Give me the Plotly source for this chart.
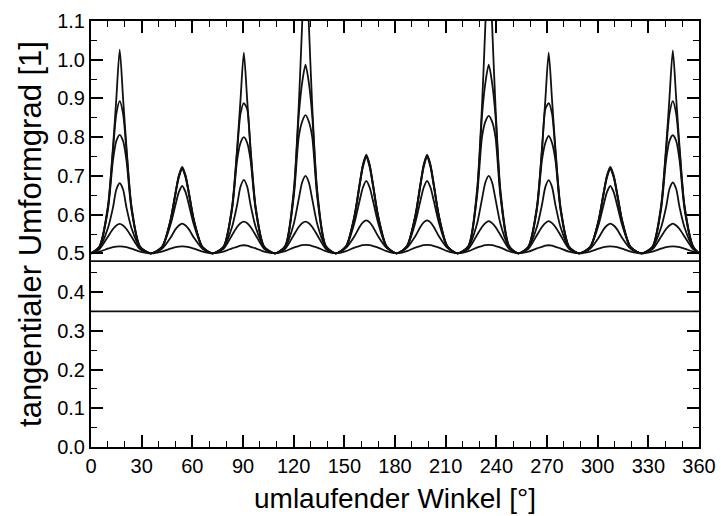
import plotly.graph_objects as go

# Angle positions (degrees)
X = [0,
     5, 10, 13, 15, 17, 19, 21, 24, 29, 35.5,
     42, 47, 50, 52, 54, 56, 58, 61, 66, 72,
     78.5, 83.5, 86.5, 88.5, 90.5, 92.5, 94.5, 97.5, 102.5, 109,
     115, 120, 123, 125, 127, 129, 131, 134, 139, 145,
     151, 156, 159, 161, 163, 165, 167, 170, 175, 181,
     187, 192, 195, 197, 199, 201, 203, 206, 211, 217,
     223.5, 228.5, 231.5, 233.5, 235.5, 237.5, 239.5, 242.5, 247.5, 253,
     259, 264, 267, 269, 271, 273, 275, 278, 283, 289,
     295.5, 300.5, 303.5, 305.5, 307.5, 309.5, 311.5, 314.5, 319.5, 326,
     332.5, 337.5, 340.5, 342.5, 344.5, 346.5, 348.5, 351.5, 356.5, 360]

C1 = [0.5,
      0.518, 0.621, 0.774, 0.900, 1.026, 0.900, 0.774, 0.621, 0.518, 0.5,
      0.516, 0.585, 0.656, 0.701, 0.723, 0.701, 0.656, 0.585, 0.516, 0.5,
      0.518, 0.620, 0.770, 0.895, 1.018, 0.895, 0.770, 0.620, 0.518, 0.5,
      0.520, 0.660, 0.880, 1.090, 1.300, 1.090, 0.880, 0.660, 0.520, 0.5,
      0.518, 0.597, 0.678, 0.729, 0.755, 0.729, 0.678, 0.597, 0.518, 0.5,
      0.518, 0.597, 0.678, 0.729, 0.755, 0.729, 0.678, 0.597, 0.518, 0.5,
      0.520, 0.660, 0.880, 1.090, 1.300, 1.090, 0.880, 0.660, 0.520, 0.5,
      0.518, 0.620, 0.770, 0.895, 1.018, 0.895, 0.770, 0.620, 0.518, 0.5,
      0.516, 0.585, 0.656, 0.701, 0.723, 0.701, 0.656, 0.585, 0.516, 0.5,
      0.518, 0.621, 0.774, 0.900, 1.024, 0.900, 0.774, 0.621, 0.518, 0.5]

C2 = [0.5,
      0.517, 0.618, 0.765, 0.860, 0.893, 0.860, 0.765, 0.618, 0.517, 0.5,
      0.516, 0.584, 0.655, 0.699, 0.720, 0.699, 0.655, 0.584, 0.516, 0.5,
      0.517, 0.617, 0.762, 0.860, 0.888, 0.872, 0.762, 0.617, 0.517, 0.5,
      0.518, 0.652, 0.855, 0.940, 0.987, 0.940, 0.855, 0.652, 0.518, 0.5,
      0.518, 0.596, 0.676, 0.727, 0.752, 0.727, 0.676, 0.596, 0.518, 0.5,
      0.518, 0.596, 0.676, 0.727, 0.752, 0.727, 0.676, 0.596, 0.518, 0.5,
      0.518, 0.652, 0.855, 0.940, 0.987, 0.940, 0.855, 0.652, 0.518, 0.5,
      0.517, 0.617, 0.762, 0.872, 0.888, 0.860, 0.762, 0.617, 0.517, 0.5,
      0.516, 0.584, 0.655, 0.699, 0.720, 0.699, 0.655, 0.584, 0.516, 0.5,
      0.517, 0.618, 0.765, 0.860, 0.893, 0.860, 0.765, 0.618, 0.517, 0.5]

C3 = [0.5,
      0.516, 0.612, 0.740, 0.790, 0.806, 0.790, 0.740, 0.612, 0.516, 0.5,
      0.515, 0.582, 0.652, 0.696, 0.717, 0.696, 0.652, 0.582, 0.515, 0.5,
      0.516, 0.612, 0.740, 0.785, 0.800, 0.785, 0.740, 0.612, 0.516, 0.5,
      0.517, 0.645, 0.800, 0.840, 0.857, 0.840, 0.800, 0.645, 0.517, 0.5,
      0.517, 0.594, 0.673, 0.723, 0.748, 0.723, 0.673, 0.594, 0.517, 0.5,
      0.517, 0.594, 0.673, 0.723, 0.748, 0.723, 0.673, 0.594, 0.517, 0.5,
      0.517, 0.645, 0.800, 0.840, 0.855, 0.840, 0.800, 0.645, 0.517, 0.5,
      0.516, 0.612, 0.740, 0.785, 0.803, 0.785, 0.740, 0.612, 0.516, 0.5,
      0.515, 0.582, 0.652, 0.696, 0.717, 0.696, 0.652, 0.582, 0.515, 0.5,
      0.516, 0.612, 0.740, 0.790, 0.805, 0.790, 0.740, 0.612, 0.516, 0.5]

C4 = [0.5,
      0.515, 0.565, 0.618, 0.665, 0.681, 0.665, 0.618, 0.565, 0.515, 0.5,
      0.516, 0.573, 0.625, 0.658, 0.674, 0.658, 0.625, 0.573, 0.516, 0.5,
      0.515, 0.568, 0.625, 0.672, 0.690, 0.672, 0.625, 0.568, 0.515, 0.5,
      0.516, 0.575, 0.640, 0.683, 0.700, 0.683, 0.640, 0.575, 0.516, 0.5,
      0.517, 0.579, 0.635, 0.670, 0.687, 0.670, 0.635, 0.579, 0.517, 0.5,
      0.517, 0.579, 0.635, 0.670, 0.687, 0.670, 0.635, 0.579, 0.517, 0.5,
      0.516, 0.575, 0.640, 0.683, 0.700, 0.683, 0.640, 0.575, 0.516, 0.5,
      0.515, 0.568, 0.625, 0.671, 0.689, 0.671, 0.625, 0.568, 0.515, 0.5,
      0.516, 0.573, 0.625, 0.658, 0.674, 0.658, 0.625, 0.573, 0.516, 0.5,
      0.515, 0.566, 0.619, 0.666, 0.683, 0.666, 0.619, 0.566, 0.515, 0.5]

C5 = [0.5,
      0.511, 0.543, 0.563, 0.572, 0.576, 0.572, 0.563, 0.543, 0.511, 0.5,
      0.512, 0.540, 0.562, 0.572, 0.577, 0.572, 0.562, 0.540, 0.512, 0.5,
      0.512, 0.547, 0.568, 0.578, 0.582, 0.578, 0.568, 0.547, 0.512, 0.5,
      0.512, 0.547, 0.568, 0.578, 0.582, 0.578, 0.568, 0.547, 0.512, 0.5,
      0.514, 0.544, 0.568, 0.580, 0.585, 0.580, 0.568, 0.544, 0.514, 0.5,
      0.514, 0.544, 0.568, 0.580, 0.585, 0.580, 0.568, 0.544, 0.514, 0.5,
      0.512, 0.547, 0.568, 0.578, 0.583, 0.578, 0.568, 0.547, 0.512, 0.5,
      0.512, 0.547, 0.568, 0.578, 0.583, 0.578, 0.568, 0.547, 0.512, 0.5,
      0.512, 0.540, 0.562, 0.572, 0.577, 0.572, 0.562, 0.540, 0.512, 0.5,
      0.511, 0.543, 0.563, 0.572, 0.577, 0.572, 0.563, 0.543, 0.511, 0.5]

C6 = [0.5,
      0.5045, 0.512, 0.516, 0.5175, 0.518, 0.5175, 0.516, 0.512, 0.5045, 0.5,
      0.5045, 0.512, 0.516, 0.5175, 0.518, 0.5175, 0.516, 0.512, 0.5045, 0.5,
      0.5045, 0.513, 0.517, 0.520, 0.521, 0.520, 0.517, 0.513, 0.5045, 0.5,
      0.5055, 0.515, 0.519, 0.521, 0.522, 0.521, 0.519, 0.515, 0.5055, 0.5,
      0.5055, 0.515, 0.519, 0.521, 0.522, 0.521, 0.519, 0.515, 0.5055, 0.5,
      0.5055, 0.515, 0.519, 0.521, 0.522, 0.521, 0.519, 0.515, 0.5055, 0.5,
      0.5055, 0.515, 0.519, 0.521, 0.522, 0.521, 0.519, 0.515, 0.5055, 0.5,
      0.5045, 0.513, 0.517, 0.520, 0.521, 0.520, 0.517, 0.513, 0.5045, 0.5,
      0.5045, 0.512, 0.516, 0.5175, 0.518, 0.5175, 0.516, 0.512, 0.5045, 0.5,
      0.5045, 0.512, 0.516, 0.5175, 0.518, 0.5175, 0.516, 0.512, 0.5045, 0.5]

X_FLAT = [0, 360]
H1 = [0.48, 0.48]
H2 = [0.35, 0.35]

X_TICKS = [0, 30, 60, 90, 120, 150, 180, 210, 240, 270, 300, 330, 360]
Y_TICKS = [0.0, 0.1, 0.2, 0.3, 0.4, 0.5, 0.6, 0.7, 0.8, 0.9, 1.0, 1.1]

FONT = "Liberation Sans, Arial, Helvetica, sans-serif"
LINE = dict(color="#111111", width=1.8, shape="spline", smoothing=0.7)
FLAT = dict(color="#111111", width=1.8)

fig = go.Figure()
for ys in [C6, C5, C4, C3, C2, C1]:
    fig.add_trace(go.Scatter(x=X, y=ys, mode="lines", line=LINE, showlegend=False))
for ys in [H1, H2]:
    fig.add_trace(go.Scatter(x=X_FLAT, y=ys, mode="lines", line=FLAT, showlegend=False))

axis_common = dict(
    showline=True, linecolor="black", linewidth=2, mirror="ticks",
    ticks="inside", ticklen=12, tickwidth=1.6, tickcolor="black",
    showgrid=False, zeroline=False,
    tickfont=dict(family=FONT, size=20, color="black"),
)

fig.update_xaxes(
    range=[0, 360], tickvals=X_TICKS, ticktext=[str(v) for v in X_TICKS],
    minor=dict(ticks="inside", ticklen=6, tickwidth=1.4, tickcolor="black", dtick=10, tick0=0, showgrid=False),
    title=dict(text="umlaufender Winkel [°]", font=dict(family=FONT, size=28, color="black"), standoff=12),
    **axis_common,
)
fig.update_yaxes(
    range=[0, 1.1], tickvals=Y_TICKS, ticktext=[f"{v:.1f}" for v in Y_TICKS],
    minor=dict(ticks="inside", ticklen=6, tickwidth=1.4, tickcolor="black", dtick=0.05, tick0=0, showgrid=False),
    title=dict(text="tangentialer Umformgrad [1]", font=dict(family=FONT, size=31, color="black"), standoff=6),
    **axis_common,
)

fig.update_layout(
    width=721, height=516,
    margin=dict(l=91, r=22, t=21, b=69, autoexpand=False),
    paper_bgcolor="white", plot_bgcolor="white",
    font=dict(family=FONT, color="black"),
)

fig.write_html("out.html")
